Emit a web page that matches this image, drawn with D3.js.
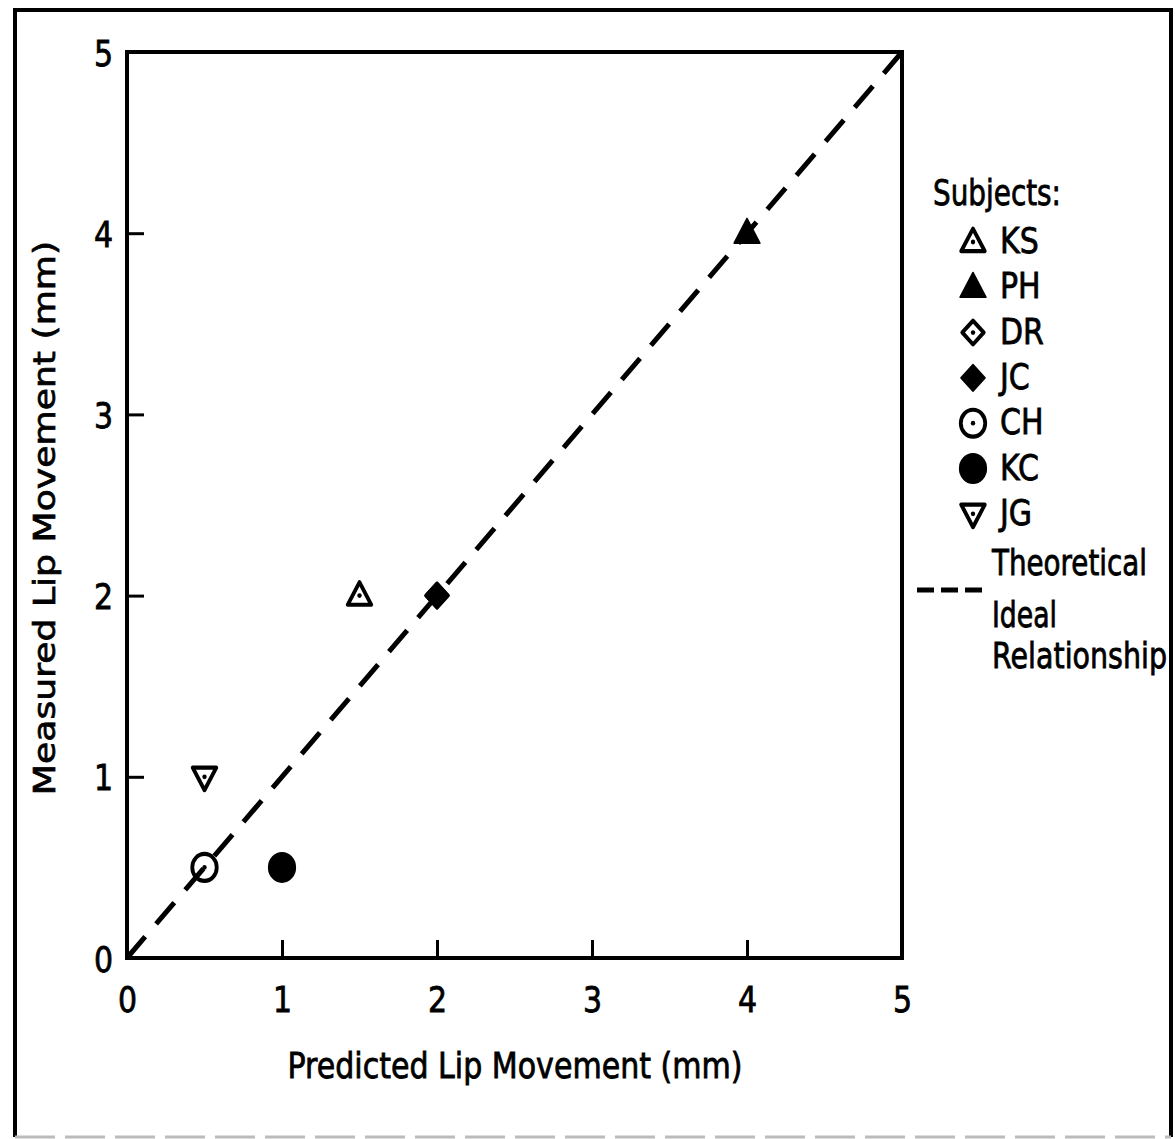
<!DOCTYPE html>
<html>
<head>
<meta charset="utf-8">
<script src="https://cdn.jsdelivr.net/npm/d3@7"></script>
<style>
  html, body { margin: 0; padding: 0; background: #fff; }
  svg { display: block; }
  text { font-family: "DejaVu Sans", sans-serif; fill: #000; stroke: #000; stroke-width: 0.7px; }
</style>
</head>
<body>
<svg id="chart" width="1175" height="1139"></svg>
<script>
// ---- data ----
const subjects = ["KS", "PH", "DR", "JC", "CH", "KC", "JG"];
const predicted = [1.5, 4, 2, 2, 0.5, 1, 0.5];
const measured = [2, 4, 2, 2, 0.5, 0.5, 1];
const symbolKinds = ["triangle", "triangle", "diamond", "diamond", "circle", "circle", "triangleDown"];
const symbolFilled = [false, true, false, true, false, true, false];
const xTicks = [0, 1, 2, 3, 4, 5];
const yTicks = [0, 1, 2, 3, 4, 5];
const idealLine = [[0, 0], [5, 5]];
const xTitle = "Predicted Lip Movement (mm)";
const yTitle = "Measured Lip Movement (mm)";
const legendTitle = "Subjects:";
const idealLabel = ["Theoretical", "Ideal", "Relationship"];

// ---- layout ----
const S = 1.2; // vertical stretch of the scanned figure
const svg = d3.select("#chart");
const x = d3.scaleLinear().domain([0, 5]).range([127, 902]);
const y = d3.scaleLinear().domain([0, 5]).range([958, 52]);

// outer frame
svg.append("path").attr("d", "M15,1137 L15,10 L1171,10 L1171,1137")
  .attr("fill", "none").attr("stroke", "#000").attr("stroke-width", 4);
svg.append("line").attr("x1", 15).attr("x2", 1171).attr("y1", 1137).attr("y2", 1137)
  .attr("stroke", "#bbb").attr("stroke-width", 3).attr("stroke-dasharray", "40,10");

// axes
const xAxis = d3.axisBottom(x).tickValues(xTicks).tickSizeInner(-18).tickSizeOuter(0).tickFormat(d3.format("d"));
const yAxis = d3.axisLeft(y).tickValues(yTicks).tickSizeInner(-17).tickSizeOuter(0).tickFormat(d3.format("d"));

const gx = svg.append("g").attr("transform", `translate(0,${y(0)})`).call(xAxis);
gx.select(".domain").remove();
gx.selectAll(".tick line").attr("stroke", "#000").attr("stroke-width", 3);
gx.selectAll(".tick text")
  .attr("y", 0).attr("dy", null)
  .attr("transform", `translate(0,54) scale(1,${S})`)
  .attr("font-size", 30).attr("font-family", "DejaVu Sans").attr("fill", "#000");

const gy = svg.append("g").attr("transform", `translate(${x(0)},0)`).call(yAxis);
gy.select(".domain").remove();
gy.selectAll(".tick line").attr("stroke", "#000").attr("stroke-width", 3);
gy.selectAll(".tick text")
  .attr("x", 0).attr("dy", null)
  .attr("text-anchor", "end")
  .attr("transform", `translate(-14,13) scale(1,${S})`)
  .attr("font-size", 30).attr("font-family", "DejaVu Sans").attr("fill", "#000");

// plot box
svg.append("rect")
  .attr("x", x(0)).attr("y", y(5))
  .attr("width", x(5) - x(0)).attr("height", y(0) - y(5))
  .attr("fill", "none").attr("stroke", "#000").attr("stroke-width", 4);

// ideal line (dash pattern fitted so it starts and ends with a dash)
const ideal = svg.append("path")
  .attr("d", d3.line().x(d => x(d[0])).y(d => y(d[1]))(idealLine))
  .attr("fill", "none").attr("stroke", "#000").attr("stroke-width", 5);
const L = ideal.node().getTotalLength();
const dashLen = 28, nDash = 27;
const gapLen = (L - nDash * dashLen) / (nDash - 1);
ideal.attr("stroke-dasharray", `${dashLen},${gapLen}`);

// symbols
function symbolPath(kind, size) {
  if (kind === "triangle" || kind === "triangleDown") return d3.symbol(d3.symbolTriangle, size)();
  if (kind === "diamond") return d3.symbol(d3.symbolSquare, size)();
  return d3.symbol(d3.symbolCircle, size)();
}
function symbolRot(kind) {
  if (kind === "triangleDown") return 180;
  if (kind === "diamond") return 45;
  return 0;
}
function symbolSize(kind, filled) {
  if (kind === "triangle" || kind === "triangleDown") return filled ? 290 : 240;
  if (kind === "diamond") return filled ? 290 : 230;
  return filled ? 560 : 470;
}
function drawSymbol(g, i, cx, cy) {
  const kind = symbolKinds[i];
  const filled = symbolFilled[i];
  const s = g.append("g").attr("transform", `translate(${cx},${cy}) scale(1,1.1)`);
  const yOff = (kind === "triangle") ? 1.5 : (kind === "triangleDown" ? -1.5 : 0);
  s.append("path")
    .attr("d", symbolPath(kind, symbolSize(kind, filled)))
    .attr("transform", `translate(0,${yOff}) rotate(${symbolRot(kind)})`)
    .attr("fill", filled ? "#000" : "none")
    .attr("stroke", "#000")
    .attr("stroke-width", filled ? 1.5 : 3.8)
    .attr("stroke-linejoin", "round");
  if (!filled) {
    s.append("circle").attr("r", 2.2).attr("cx", 0).attr("cy", 0).attr("fill", "#000");
  }
}

const pts = svg.append("g");
subjects.forEach((name, i) => {
  drawSymbol(pts, i, x(predicted[i]), y(measured[i]));
});

// legend
const lg = svg.append("g");
lg.append("text").text(legendTitle)
  .attr("transform", `translate(933,205) scale(1,${S})`)
  .attr("font-size", 30).attr("textLength", 128).attr("lengthAdjust", "spacingAndGlyphs");
const rowY0 = 242, rowStep = 45.3;
subjects.forEach((name, i) => {
  const cy = rowY0 + i * rowStep;
  drawSymbol(lg, i, 973, cy);
  lg.append("text").text(name)
    .attr("transform", `translate(1000,${cy + 11}) scale(1,${S})`)
    .attr("font-size", 30);
});
lg.append("line").attr("x1", 917).attr("x2", 982).attr("y1", 590).attr("y2", 590)
  .attr("stroke", "#000").attr("stroke-width", 5).attr("stroke-dasharray", "17,7");
const idealY = [575, 627, 668];
const idealW = [155, 65, 175];
idealLabel.forEach((t, i) => {
  lg.append("text").text(t)
    .attr("transform", `translate(992,${idealY[i]}) scale(1,${S})`)
    .attr("font-size", 30).attr("textLength", idealW[i]).attr("lengthAdjust", "spacingAndGlyphs");
});

// axis titles
svg.append("text").text(xTitle)
  .attr("text-anchor", "middle")
  .attr("transform", `translate(515,1078) scale(1,${S})`)
  .attr("font-size", 30).attr("textLength", 455).attr("lengthAdjust", "spacingAndGlyphs");
svg.append("text").text(yTitle)
  .attr("text-anchor", "middle")
  .attr("transform", `translate(55,518) scale(1,${S}) rotate(-90)`)
  .attr("font-size", 30).attr("textLength", 462).attr("lengthAdjust", "spacingAndGlyphs");
</script>
</body>
</html>
